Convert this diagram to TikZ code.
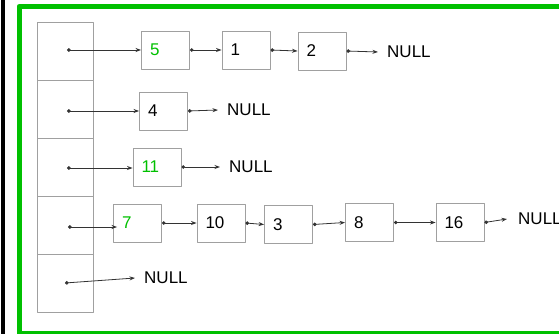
\documentclass[tikz,border=0pt]{standalone}
\usepackage{fontspec}
\setmainfont{Liberation Sans}
\usepackage{tikz}
\usetikzlibrary{arrows.meta,positioning}
\definecolor{ggreen}{RGB}{0,192,0}
\definecolor{boxgray}{RGB}{160,160,160}
\tikzset{
  bucket/.style={draw=boxgray,line width=0.9pt,minimum width=56pt,minimum height=58pt,
    inner sep=0pt,anchor=north west},
  cell/.style={draw=boxgray,line width=0.9pt,minimum width=48pt,minimum height=38pt,
    text width=31pt,inner xsep=8.5pt,align=left},
  nulltext/.style={anchor=west,inner xsep=9pt,inner ysep=0pt},
  link/.style={{Circle[length=3.6pt]}-{Stealth[length=5.5pt,width=4pt]},
    draw=black!80,line width=0.8pt},
  key/.style={text=ggreen},
  every node/.style={font=\fontsize{17}{20}\selectfont}
}

\begin{document}
\begin{tikzpicture}[x=1pt,y=-1pt,line cap=round,line join=round]
  \useasboundingbox (0,0) rectangle (559,334);

  % ---- frame ----
  \draw[black,line width=4pt] (3,0) -- (3,334);
  \draw[ggreen,line width=5pt] (19,6.5) rectangle (575,333);

  % ---- bucket table ----
  \foreach \i in {1,...,5}
    \node[bucket] (b\i) at (37,{22+58*(\i-1)}) {};

  % ---- pointer starts ----
  \coordinate (p1) at (67,50);
  \coordinate (p2) at (67,111);
  \coordinate (p3) at (67,168);
  \coordinate (p4) at (68,227);
  \coordinate (p5) at (65,283);

  % ---- row 1: 5 -> 1 -> 2 ----
  \node[cell,key] (n5) at (165.5,50) {5};
  \node[cell] (n1) at (246,50) {1};
  \node[cell] (n2) at (322,51) {2};
  \node[nulltext] (x1) at (378,52) {NULL};

  % ---- row 2: 4 ----
  \node[cell] (n4) at (163.5,111) {4};
  \node[nulltext] (x2) at (218,110) {NULL};

  % ---- row 3: 11 ----
  \node[cell,key] (n11) at (157,167) {11};
  \node[nulltext] (x3) at (220,167) {NULL};

  % ---- row 4: 7 -> 10 -> 3 -> 8 -> 16 ----
  \node[cell,key] (n7) at (137.5,223) {7};
  \node[cell] (n10) at (221,223) {10};
  \node[cell] (n3) at (288.5,224.5) {3};
  \node[cell] (n8) at (369.5,222.5) {8};
  \node[cell] (n16) at (460,222.5) {16};
  \node[nulltext,inner xsep=11pt] (x4) at (507,219) {NULL};

  % ---- row 5: empty ----
  \node[nulltext] (x5) at (135,278) {NULL};

  % ---- links ----
  \draw[link] (p1) -- (p1 -| n5.west);
  \draw[link] (n5.east) -- (n1.west);
  \draw[link] (n1.east) -- (n2.west);
  \draw[link] (n2.east) -- (x1.west);

  \draw[link] (p2) -- (p2 -| n4.west);
  \draw[link] (n4.east) -- (x2.west);

  \draw[link] (p3) -- (p3 -| n11.west);
  \draw[link] (n11.east) -- (x3.west);

  \draw[link] (p4) -- ([xshift=4pt]p4 -| n7.west);
  \draw[link] (n7.east) -- (n10.west);
  \draw[link] (n10.east) -- (n3.west);
  \draw[link] (n3.east) -- (n8.west);
  \draw[link] (n8.east) -- (n16.west);
  \draw[link] (n16.east) -- (x4.west);

  \draw[link] (p5) -- (x5.west);
\end{tikzpicture}
\end{document}
